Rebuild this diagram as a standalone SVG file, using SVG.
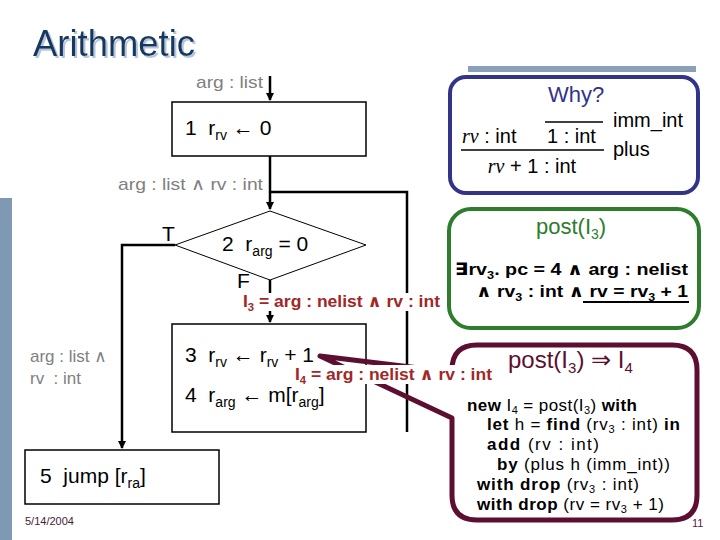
<svg xmlns="http://www.w3.org/2000/svg" width="720" height="540" viewBox="0 0 720 540">
<defs>
<marker id="ah" markerWidth="8" markerHeight="8" refX="7" refY="4" orient="auto" markerUnits="userSpaceOnUse">
<path d="M0,0 L8,4 L0,8 Z" fill="#000"/>
</marker>
<filter id="sh" x="-10%" y="-20%" width="130%" height="150%">
<feFlood flood-color="#b4c6de" result="c"/>
<feComposite in="c" in2="SourceAlpha" operator="in" result="s"/>
<feOffset in="s" dx="2" dy="2" result="o"/>
<feMerge><feMergeNode in="o"/><feMergeNode in="SourceGraphic"/></feMerge>
</filter>
<style>
text{font-family:"Liberation Sans","DejaVu Sans",sans-serif;white-space:pre}
.gray{fill:#808080;font-size:17px}
.code{fill:#000;font-size:21px}
.red{fill:#a02828;font-size:17px;font-weight:bold}
.box{fill:#fff;stroke:#000;stroke-width:1.5}
.conn{fill:none;stroke:#000;stroke-width:2.5}
.bl{font-size:17px;fill:#000}
.b{font-weight:bold}
.math{font-family:"Liberation Serif",serif;font-style:italic}
</style>
</defs>
<rect width="720" height="540" fill="#fff"/>
<rect x="0" y="198" width="12" height="342" fill="#7f99b3"/>
<rect x="468" y="66" width="228" height="6" fill="#8aa0b8"/>
<g id="title">
<text x="33" y="56" font-size="36" fill="#17375e" filter="url(#sh)" textLength="162" lengthAdjust="spacingAndGlyphs">Arithmetic</text>
</g>
<g id="connectors">
<path class="conn" d="M270,76 L270,100" marker-end="url(#ah)" stroke-width="2"/>
<path class="conn" d="M270,156 L270,209" marker-end="url(#ah)"/>
<path class="conn" d="M270,192 L407,192 L407,432" stroke-width="2"/>
<path class="conn" d="M175,245 L122,245 L122,448" marker-end="url(#ah)"/>
<path class="conn" d="M270,280 L270,322" marker-end="url(#ah)"/>
</g>
<g id="lbl-in"><text class="gray" x="196" y="88" textLength="67" lengthAdjust="spacingAndGlyphs">arg : list</text></g>
<g id="n1">
<rect class="box" x="172" y="102" width="194" height="54"/>
<text class="code" x="185" y="135">1  r<tspan font-size="14" dy="5">rv</tspan><tspan dy="-5"> ← 0</tspan></text>
</g>
<g id="lbl-loop"><text class="gray" x="118" y="190" textLength="145" lengthAdjust="spacingAndGlyphs">arg : list ∧ rv : int</text></g>
<g id="n2">
<path d="M270,211 L366,245 L270,280 L175,245 Z" fill="#fff" stroke="#000" stroke-width="1"/>
<text class="code" x="222" y="251">2  r<tspan font-size="14" dy="5">arg</tspan><tspan dy="-5"> = 0</tspan></text>
<text class="code" x="162" y="241">T</text>
<text class="code" x="237" y="288" font-size="19">F</text>
</g>
<g id="lbl-i3">
<rect x="240" y="293" width="203" height="18" fill="#fff"/>
<text class="red" x="243" y="307" textLength="197" lengthAdjust="spacingAndGlyphs">I<tspan font-size="11" dy="4">3</tspan><tspan dy="-4"> = arg : nelist ∧ rv : int</tspan></text>
</g>
<g id="n3">
<rect class="box" x="172" y="324" width="194" height="108"/>
<text class="code" x="185" y="362">3  r<tspan font-size="14" dy="5">rv</tspan><tspan dy="-5"> ← r</tspan><tspan font-size="14" dy="5">rv</tspan><tspan dy="-5"> + 1</tspan></text>
<text class="code" x="185" y="402">4  r<tspan font-size="14" dy="5">arg</tspan><tspan dy="-5"> ← m[r</tspan><tspan font-size="14" dy="5">arg</tspan><tspan dy="-5">]</tspan></text>
</g>
<g id="lbl-t"><text class="gray" x="30" y="362">arg : list ∧</text><text class="gray" x="30" y="384">rv  : int</text></g>
<g id="n5">
<rect class="box" x="25" y="450" width="194" height="54"/>
<text class="code" x="40" y="483">5  jump [r<tspan font-size="14" dy="5">ra</tspan><tspan dy="-5">]</tspan></text>
</g>
<g id="why">
<rect x="450" y="77" width="248" height="116" rx="16" fill="#fff" stroke="#333388" stroke-width="4"/>
<text x="548" y="102" font-size="22" fill="#333388">Why?</text>
<text x="462" y="143" font-size="20"><tspan class="math">rv</tspan> : int</text>
<text x="547" y="143" font-size="20">1 : int</text>
<line x1="545" y1="122" x2="603" y2="122" stroke="#000" stroke-width="1.5"/>
<line x1="461" y1="150" x2="604" y2="150" stroke="#000" stroke-width="1.5"/>
<text x="532" y="173" font-size="20" text-anchor="middle"><tspan class="math">rv</tspan> + 1 : int</text>
<text x="613" y="127" font-size="20">imm_int</text>
<text x="613" y="156" font-size="20">plus</text>
</g>
<g id="post">
<rect x="449" y="209" width="250" height="119" rx="22" fill="#fff" stroke="#2d7d2d" stroke-width="4"/>
<text x="536" y="234" font-size="22" fill="#2d7d2d">post(I<tspan font-size="14" dy="5">3</tspan><tspan dy="-5">)</tspan></text>
<text class="bl b" x="455" y="275" font-size="17" textLength="233" lengthAdjust="spacingAndGlyphs">∃rv<tspan font-size="11" dy="4">3</tspan><tspan dy="-4">. pc = 4 ∧ arg : nelist</tspan></text>
<text class="bl b" x="476" y="297" font-size="17" textLength="212" lengthAdjust="spacingAndGlyphs">∧ rv<tspan font-size="11" dy="4">3</tspan><tspan dy="-4"> : int ∧ rv = rv</tspan><tspan font-size="11" dy="4">3</tspan><tspan dy="-4"> + 1</tspan></text>
<line x1="583" y1="302" x2="689" y2="302" stroke="#000" stroke-width="2"/>
</g>
<g id="callout">
<path d="M320,356 L452,372 L452,370 Q452,345 477,345 L672,345 Q697,345 697,370 L697,495 Q697,520 672,520 L477,520 Q452,520 452,495 L452,418 Z" fill="none" stroke="#5c0f30" stroke-width="5" stroke-linejoin="round"/>
<text x="508" y="368" font-size="24" fill="#5c0f30">post(I<tspan font-size="15" dy="5">3</tspan><tspan dy="-5">) ⇒ I</tspan><tspan font-size="15" dy="5">4</tspan></text>
<text class="bl" x="467" y="411" textLength="170" lengthAdjust="spacing"><tspan class="b">new</tspan> I<tspan font-size="11" dy="3">4</tspan><tspan dy="-3"> = post(I</tspan><tspan font-size="11" dy="3">3</tspan><tspan dy="-3">) </tspan><tspan class="b">with</tspan></text>
<text class="bl" x="487" y="430" textLength="193" lengthAdjust="spacing"><tspan class="b">let</tspan> h = <tspan class="b">find</tspan> (rv<tspan font-size="11" dy="3">3</tspan><tspan dy="-3"> : int) </tspan><tspan class="b">in</tspan></text>
<text class="bl" x="487" y="450" textLength="112" lengthAdjust="spacing"><tspan class="b">add</tspan> (rv : int)</text>
<text class="bl" x="497" y="470" textLength="173" lengthAdjust="spacing"><tspan class="b">by</tspan> (plus h (imm_int))</text>
<text class="bl" x="477" y="490" textLength="162" lengthAdjust="spacing"><tspan class="b">with drop</tspan> (rv<tspan font-size="11" dy="3">3</tspan><tspan dy="-3"> : int)</tspan></text>
<text class="bl" x="477" y="510" textLength="187" lengthAdjust="spacing"><tspan class="b">with drop</tspan> (rv = rv<tspan font-size="11" dy="3">3</tspan><tspan dy="-3"> + 1)</tspan></text>
</g>
<g id="lbl-i4">
<rect x="293" y="365" width="202" height="19" fill="#fff"/>
<text class="red" x="295" y="380" textLength="197" lengthAdjust="spacingAndGlyphs">I<tspan font-size="11" dy="4">4</tspan><tspan dy="-4"> = arg : nelist ∧ rv : int</tspan></text>
</g>
<g id="footer">
<text x="25" y="525" font-size="11" fill="#4a1a3a">5/14/2004</text>
<text x="692" y="527" font-size="11" fill="#5a1a3a">11</text>
</g>
</svg>
